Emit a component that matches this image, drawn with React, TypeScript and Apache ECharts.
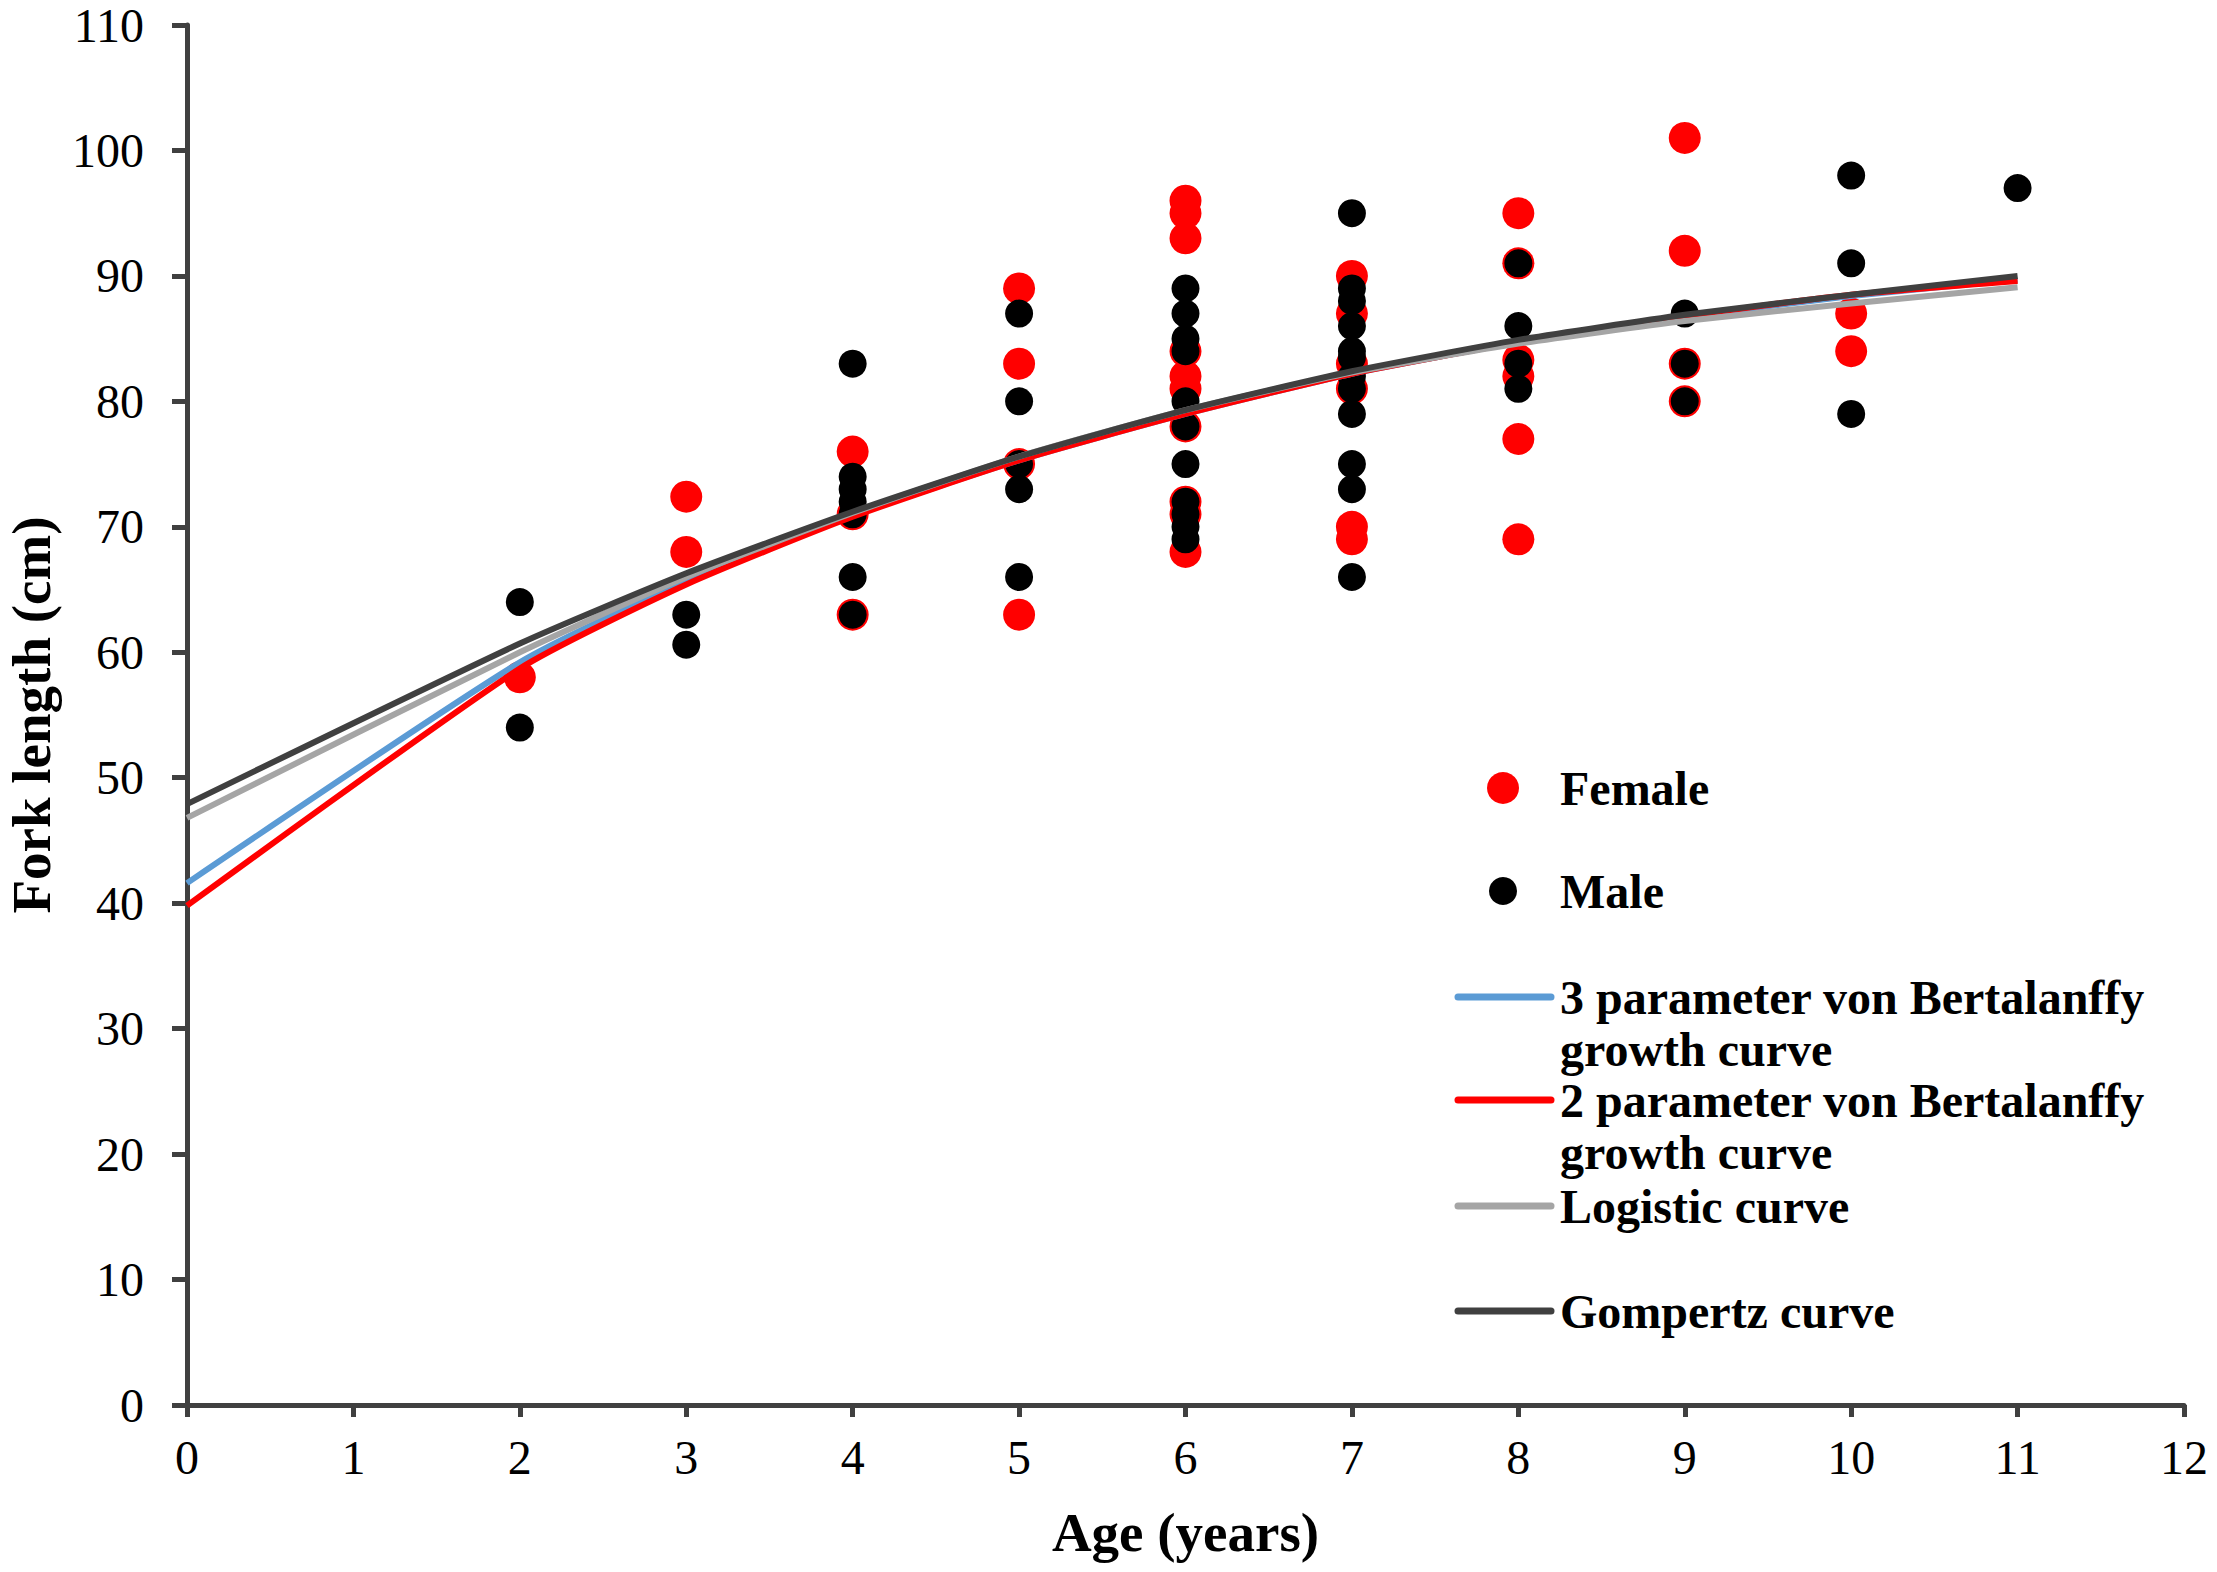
import { useEffect, useRef } from "react";
import * as echarts from "echarts";

// observed fork lengths (cm) by age (years)
const female: [number, number][] = [
    [2, 58],
    [3, 72.4], [3, 68],
    [4, 76], [4, 71], [4, 63],
    [5, 89], [5, 83], [5, 75], [5, 63],
    [6, 96], [6, 95], [6, 93], [6, 84], [6, 82], [6, 81], [6, 78], [6, 72], [6, 71], [6, 68],
    [7, 90], [7, 87], [7, 83], [7, 81], [7, 70], [7, 69],
    [8, 95], [8, 91], [8, 83.3], [8, 82], [8, 77], [8, 69],
    [9, 101], [9, 92], [9, 83], [9, 80],
    [10, 87], [10, 84],
];

const male: [number, number][] = [
    [2, 64], [2, 54],
    [3, 63], [3, 60.6],
    [4, 83], [4, 74], [4, 73], [4, 72], [4, 71], [4, 66], [4, 63],
    [5, 87], [5, 80], [5, 75], [5, 73], [5, 66],
    [6, 89], [6, 87], [6, 85], [6, 84], [6, 80], [6, 78], [6, 75], [6, 72], [6, 71], [6, 70], [6, 69],
    [7, 95], [7, 89], [7, 88], [7, 86], [7, 84], [7, 83.5], [7, 82], [7, 81], [7, 79], [7, 75], [7, 73], [7, 66],
    [8, 91], [8, 86], [8, 83], [8, 81],
    [9, 87], [9, 83], [9, 80],
    [10, 98], [10, 91], [10, 79],
    [11, 97],
];

// fitted curves, read at each age
const curveAges = [0, 2, 3, 4, 5, 6, 7, 8, 9, 10, 11];
const vonB3 = [41.6, 59.2, 65.7, 70.9, 75.3, 79.0, 82.2, 84.7, 86.7, 88.4, 89.7];
const vonB2 = [39.8, 58.7, 65.4, 70.8, 75.3, 79.0, 82.2, 84.7, 86.8, 88.5, 89.6];
const logistic = [46.8, 60.0, 66.0, 71.1, 75.6, 79.3, 82.3, 84.6, 86.4, 87.8, 89.1];
const gompertz = [47.9, 60.7, 66.3, 71.2, 75.6, 79.3, 82.4, 84.9, 86.9, 88.5, 90.0];

const FONT = "Liberation Serif";
const AXIS_COLOR = "#404040";

const pairs = (ys: number[]) => curveAges.map((a, i) => [a, ys[i]]);

export default function App() {
    const containerRef = useRef<HTMLDivElement | null>(null);

    useEffect(() => {
        if (!containerRef.current) return;
        // full-bleed page so nothing gets clipped at the svg edge
        document.body.style.margin = "0";
        const chart = echarts.init(containerRef.current, undefined, { renderer: "svg" });

        const lineSeries = (name: string, ys: number[], color: string) => ({
            name,
            type: "line" as const,
            data: pairs(ys),
            showSymbol: false,
            smooth: 0.2,
            lineStyle: { color, width: 6 },
            itemStyle: { color },
            silent: true,
        });

        // ----- legend (drawn by hand to keep the report layout) -----
        const legendText = (text: string, y: number) => ({
            type: "text" as const,
            left: 1560,
            top: y - 26,
            style: {
                text,
                fill: "#000",
                font: `bold 48px "${FONT}"`,
                lineHeight: 52,
            },
        });
        const legendLine = (y: number, color: string) => ({
            type: "line" as const,
            shape: { x1: 1458, y1: y, x2: 1551, y2: y },
            style: { stroke: color, lineWidth: 7, lineCap: "round" as const },
        });

        const option: echarts.EChartsOption = {
            animation: false,
            backgroundColor: "#fff",
            grid: { left: 187, right: 33, top: 25, bottom: 167, outerBoundsMode: "none" } as any,
            xAxis: {
                type: "value",
                min: 0,
                max: 12,
                interval: 1,
                name: "Age (years)",
                nameLocation: "middle",
                nameGap: 100,
                nameTextStyle: { fontFamily: FONT, fontWeight: "bold", fontSize: 55, color: "#000" },
                axisLine: { lineStyle: { color: AXIS_COLOR, width: 5 } },
                axisTick: { length: 12, lineStyle: { color: AXIS_COLOR, width: 5 } },
                axisLabel: { fontFamily: FONT, fontSize: 48, color: "#000", margin: 28 },
                splitLine: { show: false },
            },
            yAxis: {
                type: "value",
                min: 0,
                max: 110,
                interval: 10,
                name: "Fork length (cm)",
                nameLocation: "middle",
                nameGap: 128,
                nameTextStyle: { fontFamily: FONT, fontWeight: "bold", fontSize: 55, color: "#000" },
                axisLine: { lineStyle: { color: AXIS_COLOR, width: 5 } },
                axisTick: { length: 15, lineStyle: { color: AXIS_COLOR, width: 5 } },
                axisLabel: { fontFamily: FONT, fontSize: 48, lineHeight: 40, color: "#000", margin: 43 },
                splitLine: { show: false },
            },
            series: [
                {
                    name: "Female",
                    type: "scatter",
                    data: female,
                    symbolSize: 32,
                    itemStyle: { color: "#FF0000", opacity: 1 },
                },
                lineSeries("3 parameter von Bertalanffy growth curve", vonB3, "#5B9BD5"),
                lineSeries("2 parameter von Bertalanffy growth curve", vonB2, "#FF0000"),
                lineSeries("Logistic curve", logistic, "#A5A5A5"),
                lineSeries("Gompertz curve", gompertz, "#404040"),
                {
                    name: "Male",
                    type: "scatter",
                    data: male,
                    symbolSize: 28,
                    itemStyle: { color: "#000000", opacity: 1 },
                },
            ],
            graphic: [
                { type: "circle", shape: { cx: 1503, cy: 788, r: 16 }, style: { fill: "#FF0000" } },
                legendText("Female", 788),
                { type: "circle", shape: { cx: 1503, cy: 891, r: 14 }, style: { fill: "#000" } },
                legendText("Male", 891),
                legendLine(997, "#5B9BD5"),
                legendText("3 parameter von Bertalanffy\ngrowth curve", 997),
                legendLine(1100, "#FF0000"),
                legendText("2 parameter von Bertalanffy\ngrowth curve", 1100),
                legendLine(1206, "#A5A5A5"),
                legendText("Logistic curve", 1206),
                legendLine(1311, "#404040"),
                legendText("Gompertz curve", 1311),
            ],
        };

        chart.setOption(option);

        const onResize = () => chart.resize();
        window.addEventListener("resize", onResize);
        return () => {
            window.removeEventListener("resize", onResize);
            chart.dispose();
        };
    }, []);

    return <div ref={containerRef} style={{ width: 2217, height: 1572 }} />;
}
